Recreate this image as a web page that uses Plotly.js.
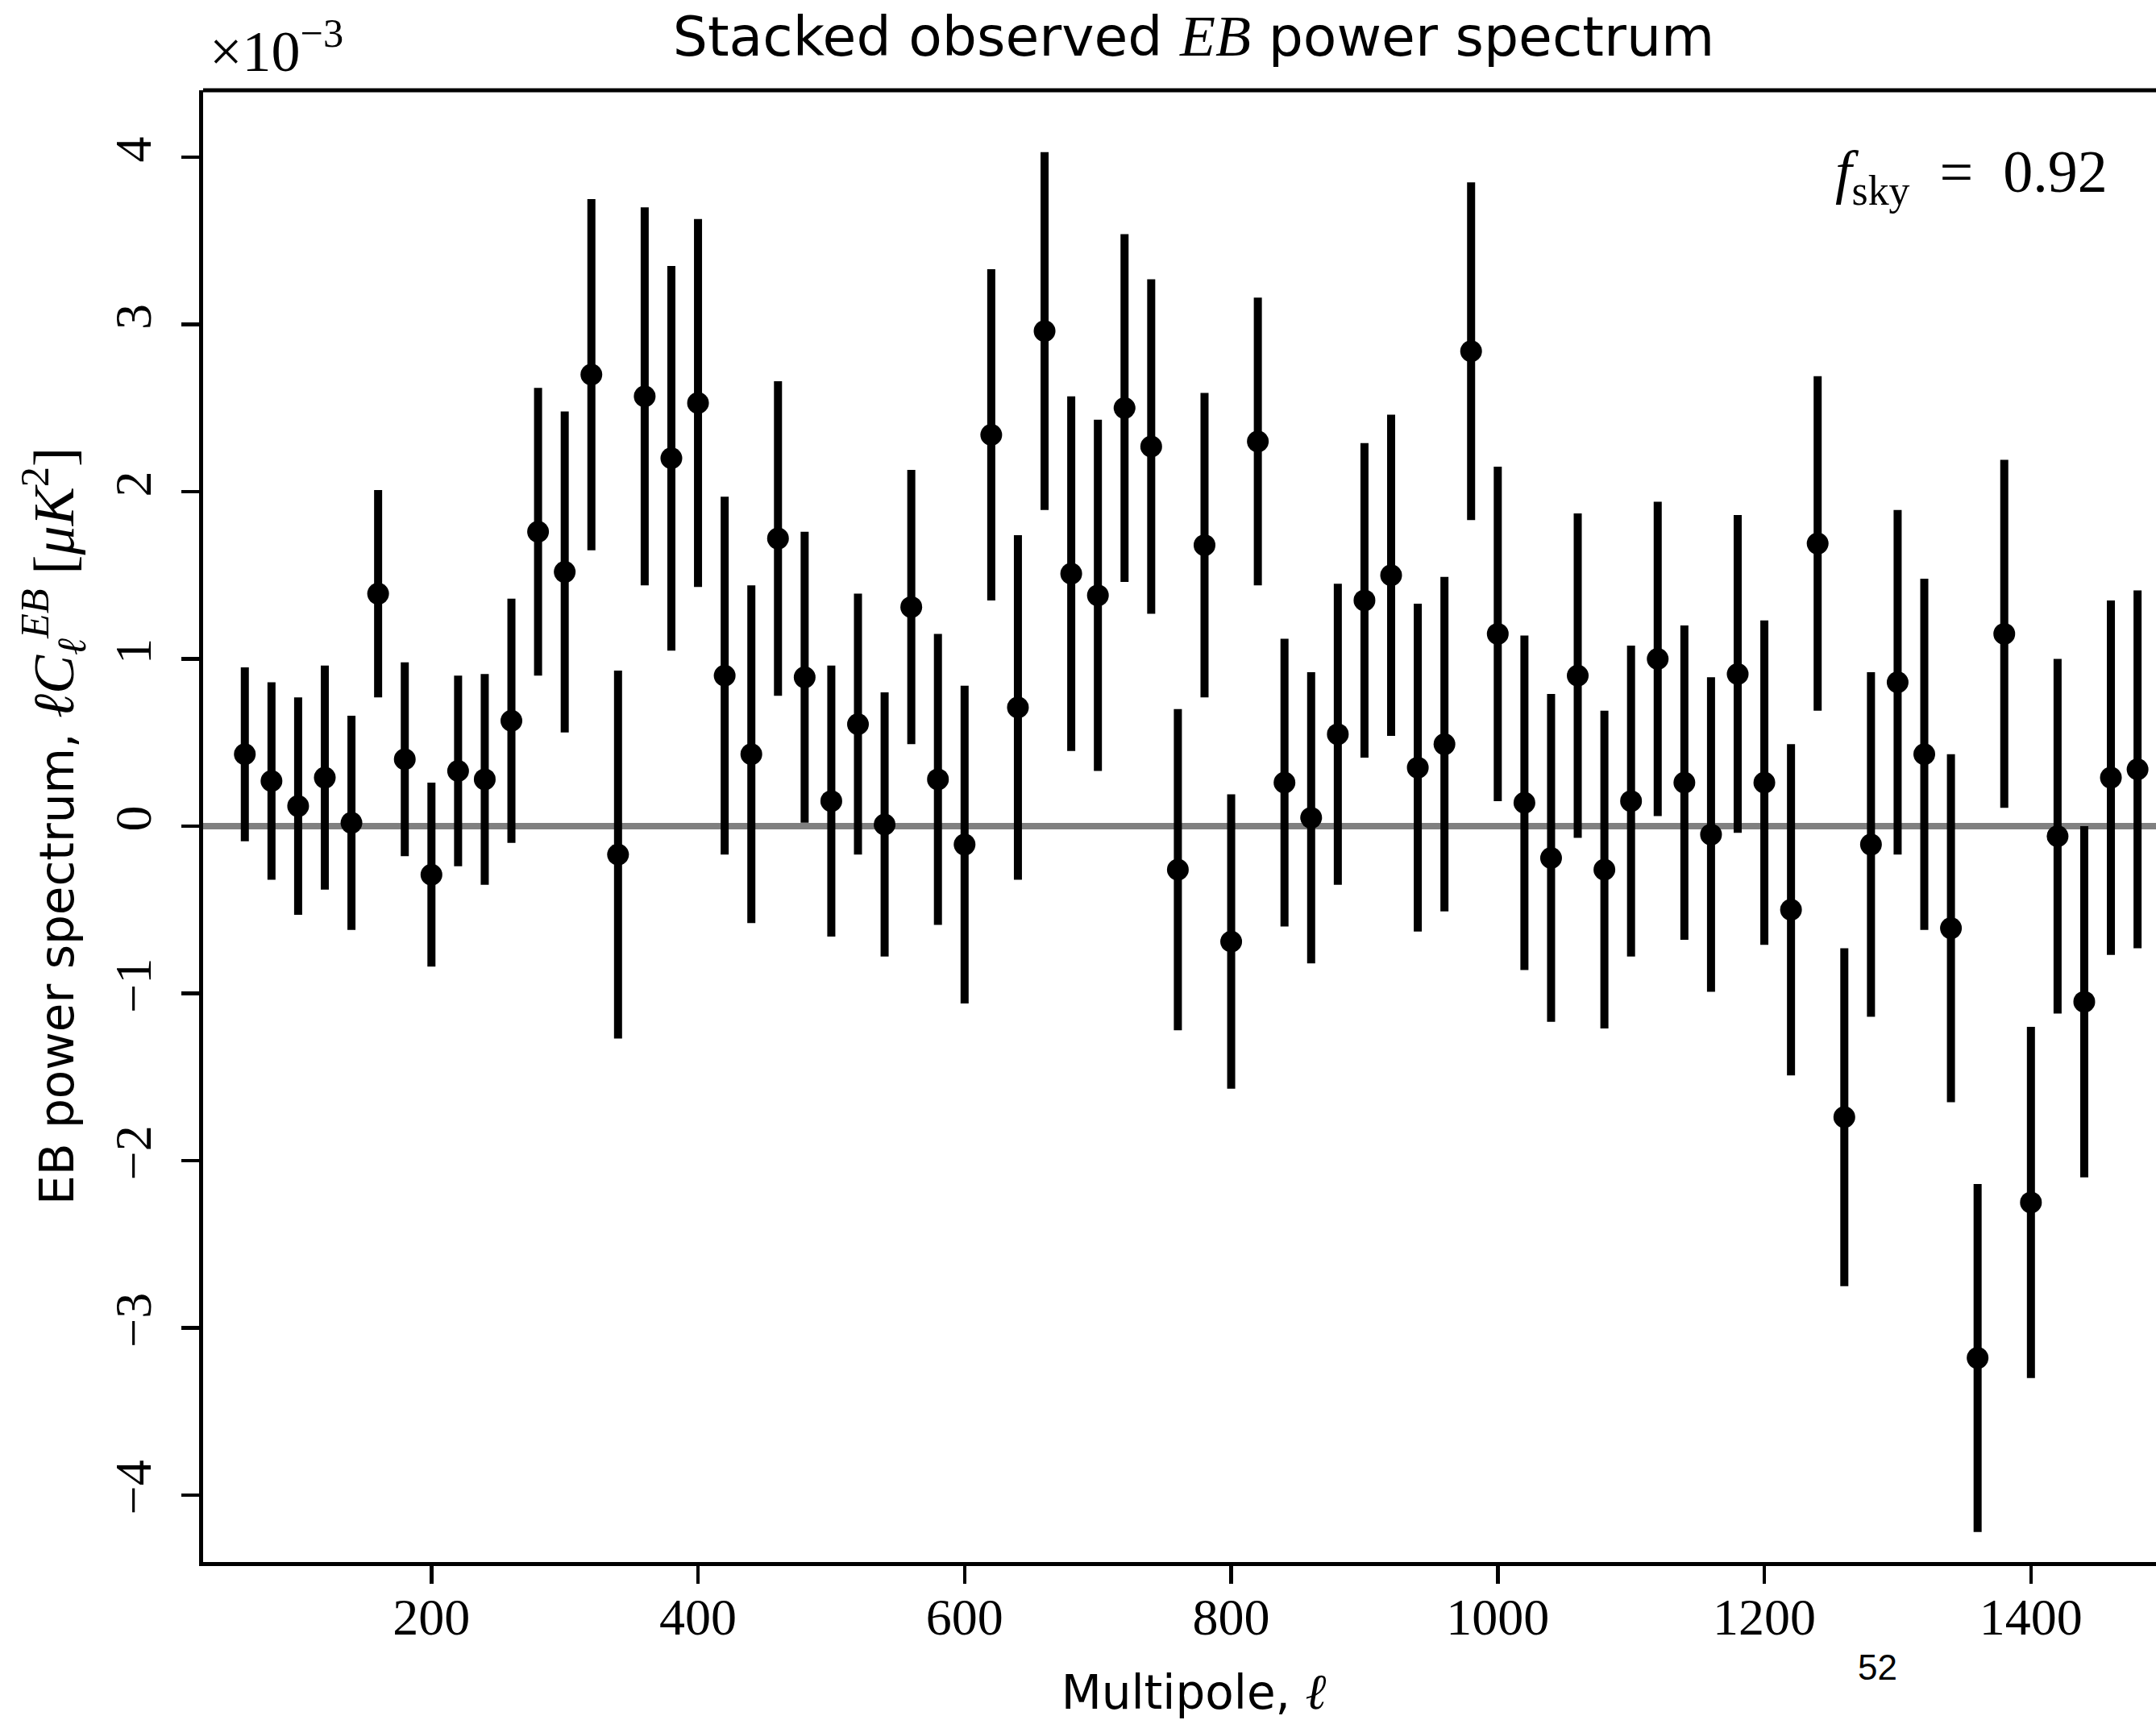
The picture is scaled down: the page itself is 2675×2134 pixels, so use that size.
<!DOCTYPE html>
<html>
<head>
<meta charset="utf-8">
<script src="https://cdn.plot.ly/plotly-3.0.1.min.js"></script>
<style>
html, body { margin: 0; padding: 0; overflow: hidden; background: #ffffff; }
#chart { width: 2710px; height: 2134px; }
</style>
</head>
<body>
<div id="chart"></div>
<script>
// Multipole bin centres
const ell = [60, 80, 100, 120, 140, 160, 180, 200, 220, 240,
             260, 280, 300, 320, 340, 360, 380, 400, 420, 440,
             460, 480, 500, 520, 540, 560, 580, 600, 620, 640,
             660, 680, 700, 720, 740, 760, 780, 800, 820, 840,
             860, 880, 900, 920, 940, 960, 980, 1000, 1020, 1040,
             1060, 1080, 1100, 1120, 1140, 1160, 1180, 1200, 1220, 1240,
             1260, 1280, 1300, 1320, 1340, 1360, 1380, 1400, 1420, 1440,
             1460, 1480];

// Stacked EB power spectrum  l*C_l^EB  in units of 1e-3 muK^2
const clEB = [0.43, 0.27, 0.12, 0.29, 0.02, 1.39, 0.40, -0.29, 0.33, 0.28,
              0.63, 1.76, 1.52, 2.70, -0.17, 2.57, 2.20, 2.53, 0.90, 0.43,
              1.72, 0.89, 0.15, 0.61, 0.01, 1.31, 0.28, -0.11, 2.34, 0.71,
              2.96, 1.51, 1.38, 2.50, 2.27, -0.26, 1.68, -0.69, 2.30, 0.26,
              0.05, 0.55, 1.35, 1.50, 0.35, 0.49, 2.84, 1.15, 0.14, -0.19,
              0.90, -0.26, 0.15, 1.00, 0.26, -0.05, 0.91, 0.26, -0.50, 1.69,
              -1.74, -0.11, 0.86, 0.43, -0.61, -3.18, 1.15, -2.25, -0.06, -1.05,
              0.29, 0.34];

// 1-sigma errors, same units
const clEBerr = [0.52, 0.59, 0.65, 0.67, 0.64, 0.62, 0.58, 0.55, 0.57, 0.63,
                 0.73, 0.86, 0.96, 1.05, 1.10, 1.13, 1.15, 1.10, 1.07, 1.01,
                 0.94, 0.87, 0.81, 0.78, 0.79, 0.82, 0.87, 0.95, 0.99, 1.03,
                 1.07, 1.06, 1.05, 1.04, 1.00, 0.96, 0.91, 0.88, 0.86, 0.86,
                 0.87, 0.90, 0.94, 0.96, 0.98, 1.00, 1.01, 1.00, 1.00, 0.98,
                 0.97, 0.95, 0.93, 0.94, 0.94, 0.94, 0.95, 0.97, 0.99, 1.00,
                 1.01, 1.03, 1.03, 1.05, 1.04, 1.04, 1.04, 1.05, 1.06, 1.05,
                 1.06, 1.07];

const xTicks = [200, 400, 600, 800, 1000, 1200, 1400];
const yTicks = [-4, -3, -2, -1, 0, 1, 2, 3, 4];

const SERIF = 'Liberation Serif, DejaVu Serif, serif';
const SANS = 'DejaVu Sans, sans-serif';

const trace = {
  type: 'scatter',
  mode: 'markers',
  x: ell,
  y: clEB,
  marker: { color: '#000000', size: 27, symbol: 'circle' },
  error_y: { type: 'data', array: clEBerr, visible: true, color: '#000000', thickness: 10, width: 0 },
  showlegend: false,
  hoverinfo: 'x+y'
};

const layout = {
  width: 2710,
  height: 2134,
  paper_bgcolor: '#ffffff',
  plot_bgcolor: '#ffffff',
  margin: { l: 252, r: 0, t: 112, b: 196, pad: 0 },
  title: {
    text: "Stacked observed <span style='font-family:Liberation Serif, DejaVu Serif, serif; font-size:72px'><i>EB</i></span> power spectrum",
    font: { family: SANS, size: 68, color: '#000000' },
    x: 0.5, xref: 'paper', xanchor: 'center',
    y: 1 - 45 / 2134, yref: 'container', yanchor: 'middle'
  },
  xaxis: {
    range: [28.7, 1515],
    tickvals: xTicks,
    ticktext: xTicks.map(String),
    ticks: 'outside', ticklen: 22, tickwidth: 4.5, tickcolor: '#000000',
    showline: true, linecolor: '#000000', linewidth: 5,
    showgrid: false, zeroline: false,
    tickfont: { family: SERIF, size: 64, color: '#000000' },
    ticklabelstandoff: -14,
    title: {
      text: "Multipole, <span style='font-family:Liberation Serif, DejaVu Serif, serif; font-size:62px'><i>ℓ</i></span>",
      font: { family: SANS, size: 58, color: '#000000' },
      standoff: 50
    },
    automargin: false
  },
  yaxis: {
    range: [-4.4, 4.4],
    tickvals: yTicks,
    ticktext: yTicks.map(v => v < 0 ? '\u2212' + Math.abs(v) : String(v)),
    tickangle: -90,
    ticks: 'outside', ticklen: 22, tickwidth: 4.5, tickcolor: '#000000',
    showline: true, linecolor: '#000000', linewidth: 5,
    showgrid: false,
    zeroline: true, zerolinecolor: '#808080', zerolinewidth: 8,
    tickfont: { family: SERIF, size: 64, color: '#000000' },
    ticklabelstandoff: 12,
    title: {
      text: "EB power spectrum, <span style='font-family:Liberation Serif, DejaVu Serif, serif; font-size:72px'><i>ℓC</i><sub><i>ℓ</i></sub><sup><i>EB</i></sup> [<i>μK</i><sup>2</sup>]</span>",
      font: { family: SANS, size: 58, color: '#000000' },
      standoff: 22
    },
    automargin: false
  },
  shapes: [
    { type: 'line', xref: 'paper', yref: 'paper', x0: 0, x1: 1, y0: 1, y1: 1,
      line: { color: '#000000', width: 5 } }
  ],
  annotations: [
    { text: '×10<sup>−3</sup>', xref: 'paper', yref: 'paper', x: 0, y: 1,
      xanchor: 'left', yanchor: 'bottom', xshift: 6, yshift: 6, showarrow: false,
      font: { family: SERIF, size: 72, color: '#000000' } },
    { text: '<i>f</i><sub>sky</sub>\u2002=\u20020.92', xref: 'paper', yref: 'paper',
      x: (2446 - 252) / 2458, y: 1, xanchor: 'center', yanchor: 'top', yshift: -58,
      showarrow: false, font: { family: SERIF, size: 74, color: '#000000' } },
    { text: '52', xref: 'paper', yref: 'paper', x: (2329 - 252) / 2458, y: 0,
      xanchor: 'center', yanchor: 'middle', yshift: -(2068 - 1938), showarrow: false,
      font: { family: 'Liberation Sans, Arial, sans-serif', size: 44, color: '#000000' } }
  ]
};

Plotly.newPlot('chart', [trace], layout, { displayModeBar: false, staticPlot: true });
</script>
</body>
</html>
